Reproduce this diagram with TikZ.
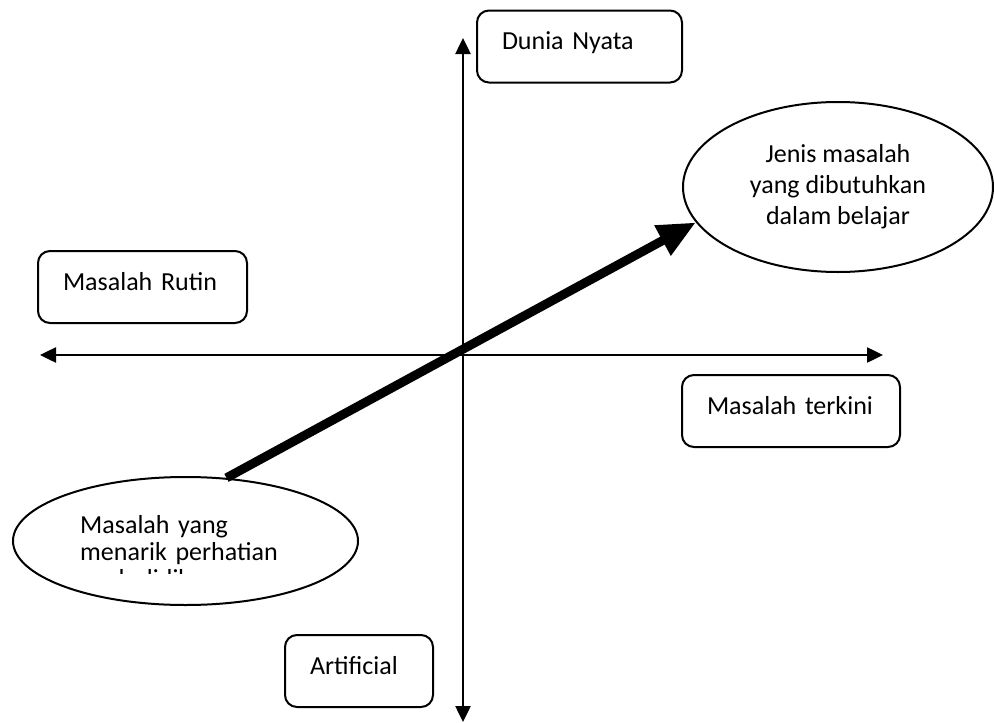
\documentclass[tikz,border=0pt]{standalone}
\usepackage{fontspec}
\setmainfont{Carlito}
\usetikzlibrary{arrows.meta,shapes.geometric}
\begin{document}
\begin{tikzpicture}[x=1pt,y=-1pt,
  boxnode/.style={draw, line width=2pt, rounded corners=12pt, minimum height=72pt,
    inner xsep=25pt, inner ysep=0pt, align=left, text height=18pt, text depth=12pt,
    font=\fontsize{26}{30}\selectfont},
  ellnode/.style={draw, ellipse, line width=2pt, inner sep=0pt,
    font=\fontsize{26}{31}\selectfont},
  axis/.style={line width=2.5pt,
    {Triangle[length=16pt,width=15pt]}-{Triangle[length=16pt,width=15pt]}},
  bigarrow/.style={line width=9pt, -{Triangle[length=38pt,width=32pt]}}]
\useasboundingbox (0,0) rectangle (994,723);

% axes
\coordinate (vtop) at (463,38);
\coordinate (vbot) at (463,722);
\coordinate (hl) at (40,355);
\coordinate (hr) at (883,355);
\draw[axis] (vbot) -- (vtop);
\draw[axis] (hl) -- (hr);

% boxes
\node[boxnode, text width=155pt] (dunia) at (579.5,46.5) {Dunia Nyata};
\node[boxnode, text width=159pt] (rutin) at (142.5,287) {Masalah Rutin};
\node[boxnode, text width=168pt] (terkini) at (791,411) {Masalah terkini};
\node[boxnode, text width=98pt] (artificial) at (359,671) {Artificial};

% ellipses
\node[ellnode, minimum width=310pt, minimum height=170pt, align=center] (jenis) at (838,187)
  {Jenis masalah\\yang dibutuhkan\\dalam belajar};
\node[ellnode, minimum width=345pt, minimum height=128pt] (menarik) at (185.5,541) {};
\begin{scope}
  \clip (60,480) rectangle (360,573);
  \node[anchor=north west, text width=280pt, align=left, inner sep=0pt,
    font=\fontsize{26}{27}\selectfont]
    (menariktext) at (80,515) {Masalah yang\\menarik perhatian\\anak didik};
\end{scope}

% thick arrow
\draw[bigarrow] (menarik.57) -- (jenis.194);
\end{tikzpicture}
\end{document}
